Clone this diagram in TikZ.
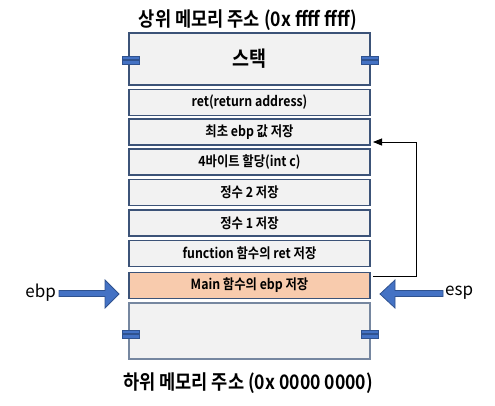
\documentclass[tikz,border=0pt]{standalone}
\usepackage{fontspec}
\setmainfont{Noto Sans CJK KR}
\newfontfamily\kb{Noto Sans CJK KR}[FakeStretch=0.88,UprightFont=* Bold]
\newfontfamily\kr{Noto Sans CJK KR}
\usetikzlibrary{arrows.meta}
\definecolor{boxfill}{HTML}{F2F2F2}
\definecolor{boxline}{HTML}{3C5378}
\definecolor{mainfill}{HTML}{F8CBAD}
\definecolor{arrfill}{HTML}{4472C4}
\definecolor{arrline}{HTML}{2F528F}
\tikzset{
  cell/.style={draw=boxline, line width=1.2pt, fill=boxfill, minimum width=241pt, minimum height=26pt, inner sep=0pt, font=\kb\fontsize{14}{14}\selectfont},
  brk/.style={fill=arrfill, draw=arrline, line width=0.7pt},
  blockarr/.style={fill=arrfill, draw=arrline, line width=0.8pt},
  title/.style={font=\kb\fontsize{20}{20}\selectfont, inner sep=0pt},
  side/.style={font=\kr\fontsize{17}{17}\selectfont, inner sep=0pt}
}
\begin{document}
\begin{tikzpicture}[x=1pt,y=-1pt]
\useasboundingbox (0,0) rectangle (495,405);
\node[title] (top) at (248,20) {상위 메모리 주소 (0x ffff ffff)};
\node[cell, minimum height=52pt, font=\kb\fontsize{21}{21}\selectfont] (stack) at (249.5,59) {스택};
\node[cell] (ret) at (249.5,102.5) {ret(return address)};
\node[cell] (first) at (249.5,132) {최초 ebp 값 저장};
\node[cell] (alloc) at (249.5,162) {4바이트 할당(int c)};
\node[cell] (int2) at (249.5,192.5) {정수 2 저장};
\node[cell] (int1) at (249.5,223) {정수 1 저장};
\node[cell] (fret) at (249.5,253.5) {function 함수의 ret 저장};
\node[cell, fill=mainfill] (main) at (249.5,285.5) {Main 함수의 ebp 저장};
\node[cell, minimum height=56pt, draw=boxline!70] (bottom) at (249.5,331) {};
\node[title] (low) at (248,383) {하위 메모리 주소 (0x 0000 0000)};
% break marks
\foreach \xx in {122,361}{
  \draw[brk] (\xx,56) rectangle ++(17,3.3);
  \draw[brk] (\xx,60.7) rectangle ++(17,3.3);
  \draw[brk] (\xx,330) rectangle ++(17,3.3);
  \draw[brk] (\xx,334.7) rectangle ++(17,3.3);
}
% connector
\coordinate (s) at (373,276);
\coordinate (t) at (373,142);
\draw[line width=0.8pt, -{Triangle[length=9pt,width=7pt]}] (s) -- (416,276) -- (416,142) -- (t);
% block arrows
\node[side, anchor=east] (ebp) at (56,293) {ebp};
\node[side, anchor=west] (esp) at (445,293) {esp};
\draw[blockarr] (59,290.5) -- (105,290.5) -- (105,280) -- (119,294) -- (105,308) -- (105,296.5) -- (59,296.5) -- cycle;
\draw[blockarr] (443,290.5) -- (395,290.5) -- (395,280) -- (380,294) -- (395,308) -- (395,296.5) -- (443,296.5) -- cycle;
\end{tikzpicture}
\end{document}
